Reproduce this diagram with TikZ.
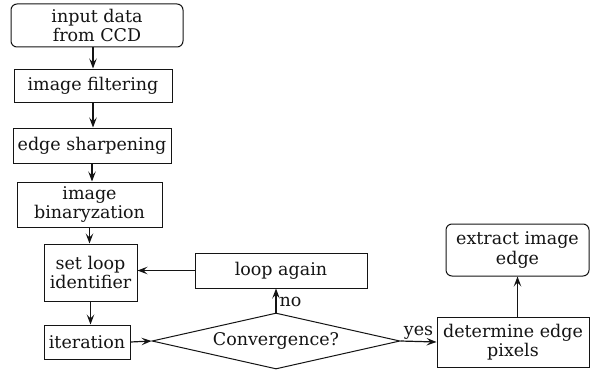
\documentclass[tikz,border=0pt]{standalone}
\usepackage{fontspec}
\setmainfont{DejaVu Serif}
\usetikzlibrary{arrows.meta,shapes.geometric}
\definecolor{lineblack}{RGB}{20, 20, 20}
\definecolor{paper}{RGB}{255, 255, 255}

\begin{document}
\begin{tikzpicture}[
        x=1pt, y=-1pt,
        every node/.style={
            font=\fontsize{17.5}{19.5}\selectfont,
            align=center,
            inner sep=0pt,
            text=lineblack
        },
        procbox/.style={draw=lineblack, line width=1pt},
        termbox/.style={procbox, rounded corners=6pt},
        decision/.style={procbox, diamond, aspect=4.4},
        arr/.style={draw=lineblack, line width=1.2pt,
            -{Stealth[length=10pt, width=7.5pt, inset=4pt]}}
    ]
    \useasboundingbox[fill=paper] (0,0) rectangle (601,369);

    \node[termbox, minimum width=172pt, minimum height=43pt] (input) at (97,25.5) {input data\\from CCD};
    \node[procbox, minimum width=158pt, minimum height=33pt] (filter) at (93,85.5) {image filtering};
    \node[procbox, minimum width=158pt, minimum height=35pt] (sharpen) at (92,145.5) {edge sharpening};
    \node[procbox, minimum width=145pt, minimum height=45pt] (binary) at (89.5,204.5) {image\\binaryzation};
    \node[procbox, minimum width=93pt, minimum height=57pt] (setloop) at (90.5,272.5) {set loop\\identifier};
    \node[procbox, minimum width=86pt, minimum height=34pt] (iter) at (87,342) {iteration};
    \node[procbox, minimum width=172pt, minimum height=35pt] (again) at (281,270.5) {loop again};
    \node[decision, minimum width=248pt, minimum height=56pt] (conv) at (276,341) {Convergence?};
    \node[procbox, minimum width=152pt, minimum height=50pt] (determ) at (513,342) {determine edge\\pixels};
    \node[termbox, minimum width=143pt, minimum height=52pt] (extract) at (517.5,250) {extract image\\edge};

    \draw[arr] (input.south -| filter.north) -- (filter.north);
    \draw[arr] (filter.south) -- (filter.south |- sharpen.north);
    \draw[arr] (sharpen.south) -- (sharpen.south |- binary.north);
    \draw[arr] (binary.south) -- (binary.south |- setloop.north);
    \draw[arr] (setloop.south) -- (setloop.south |- iter.north);
    \draw[arr] (iter.east) -- (conv.west);
    \draw[arr] (conv.north) -- (conv.north |- again.south)
        node[pos=0.45, right=3pt] {no};
    \draw[arr] (again.west) -- (again.west -| setloop.east);
    \draw[arr] (conv.east) -- (determ.west)
        node[midway, above=2pt] {yes};
    \draw[arr] (determ.north -| extract.south) -- (extract.south);
\end{tikzpicture}
\end{document}
